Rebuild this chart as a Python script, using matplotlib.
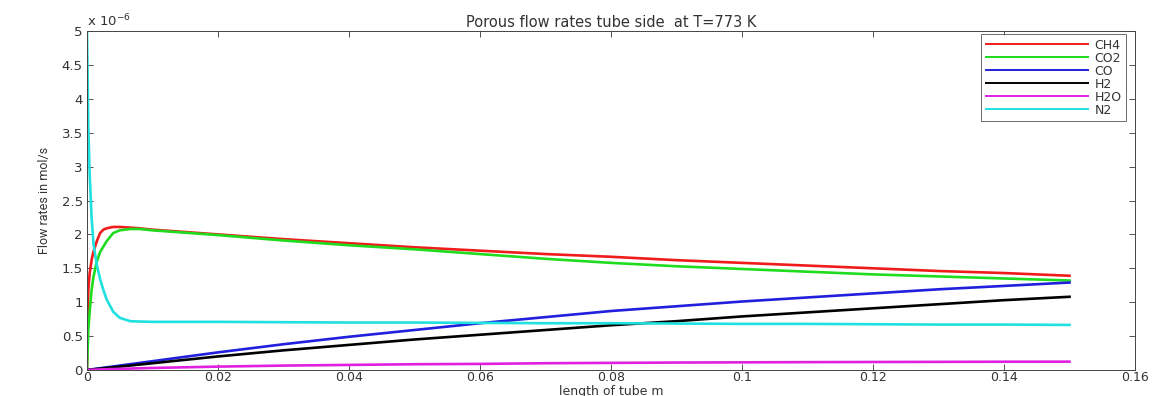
import matplotlib
matplotlib.use("Agg")
import matplotlib.pyplot as plt
from matplotlib.ticker import MultipleLocator, FuncFormatter

# Position along the tube (m)
length_m = [0, 0.0002, 0.0004, 0.0007, 0.001, 0.0015, 0.002, 0.0025, 0.003,
            0.004, 0.005, 0.0066, 0.008, 0.01, 0.02, 0.03, 0.04, 0.05, 0.06,
            0.07, 0.08, 0.09, 0.1, 0.11, 0.12, 0.13, 0.14, 0.15]

# Flow rates in units of 1e-6 mol/s
ch4 = [0, 1.18, 1.42, 1.62, 1.75, 1.90, 2.02, 2.07, 2.09, 2.11, 2.11, 2.10,
       2.09, 2.07, 2.00, 1.93, 1.87, 1.81, 1.76, 1.71, 1.67, 1.62, 1.58,
       1.54, 1.50, 1.46, 1.43, 1.39]
co2 = [0, 0.59, 0.85, 1.18, 1.38, 1.60, 1.74, 1.82, 1.90, 2.02, 2.06, 2.08,
       2.08, 2.06, 1.99, 1.91, 1.84, 1.78, 1.71, 1.64, 1.58, 1.53, 1.49,
       1.45, 1.41, 1.38, 1.35, 1.32]
co = [0, 0.003, 0.005, 0.009, 0.013, 0.02, 0.026, 0.033, 0.039, 0.052, 0.065,
      0.086, 0.104, 0.13, 0.26, 0.38, 0.49, 0.59, 0.69, 0.78, 0.87, 0.94,
      1.01, 1.07, 1.13, 1.19, 1.24, 1.29]
h2 = [0, 0.002, 0.004, 0.007, 0.01, 0.015, 0.02, 0.025, 0.03, 0.04, 0.05,
      0.066, 0.08, 0.10, 0.20, 0.29, 0.37, 0.45, 0.52, 0.59, 0.66, 0.72,
      0.79, 0.85, 0.91, 0.97, 1.03, 1.08]
h2o = [0, 0.001, 0.002, 0.003, 0.004, 0.006, 0.008, 0.01, 0.011, 0.014,
       0.017, 0.021, 0.025, 0.03, 0.05, 0.065, 0.075, 0.085, 0.09, 0.10,
       0.105, 0.11, 0.113, 0.116, 0.118, 0.12, 0.122, 0.123]
n2 = [5.0, 3.6, 2.9, 2.25, 1.85, 1.55, 1.34, 1.18, 1.04, 0.86, 0.77, 0.72,
      0.715, 0.71, 0.71, 0.705, 0.70, 0.70, 0.695, 0.69, 0.69, 0.685, 0.68,
      0.68, 0.675, 0.67, 0.67, 0.665]

species = ["CH4", "CO2", "CO", "H2", "H2O", "N2"]
series = [ch4, co2, co, h2, h2o, n2]
colors = ["#f01c1c", "#1fdc1f", "#2020dd", "#000000", "#e020e0", "#20e0e0"]

text_col = "#333333"

fig = plt.figure(figsize=(11.61, 3.96), dpi=100)
ax = fig.add_axes([87 / 1161, 26 / 396, (1135 - 87) / 1161, (370 - 31) / 396])

for name, vals, col in zip(species, series, colors):
    ax.plot(length_m, vals, color=col, lw=1.9, label=name)

ax.set_xlim(0, 0.16)
ax.set_ylim(0, 5)
ax.xaxis.set_major_locator(MultipleLocator(0.02))
ax.yaxis.set_major_locator(MultipleLocator(0.5))
fmt = FuncFormatter(lambda v, p: ("%g" % round(v, 4)))
ax.xaxis.set_major_formatter(fmt)
ax.yaxis.set_major_formatter(fmt)
ax.tick_params(direction="in", top=True, right=True, length=4, width=0.6,
               labelsize=9.5, colors=text_col, pad=3)
ax.tick_params(axis="x", pad=1.0, labelsize=9)
for s in ax.spines.values():
    s.set_linewidth(0.7)
    s.set_color("#444444")

ax.text(0.0, 1.004, r"x 10$^{-6}$", transform=ax.transAxes, fontsize=9.5,
        ha="left", va="bottom", color=text_col)
ax.set_title("Porous flow rates tube side  at T=773 K", fontsize=10.5, pad=3,
             color=text_col)
ax.set_xlabel("length of tube m", fontsize=9, labelpad=0.5, color=text_col)
ax.set_ylabel("Flow rates in mol/s", fontsize=9,
              family=["Roboto", "DejaVu Sans"],
              labelpad=8, color=text_col)

leg = ax.legend(loc="upper right", bbox_to_anchor=(0.9915, 0.99),
                fontsize=9, frameon=True, fancybox=False,
                edgecolor="#444444", handlelength=8.2, labelspacing=0.0,
                borderpad=0.35, handletextpad=0.5, borderaxespad=0.0)
leg.get_frame().set_linewidth(0.7)
for t in leg.get_texts():
    t.set_color(text_col)
for line in leg.get_lines():
    line.set_linewidth(1.4)

fig.savefig("out.png", dpi=100, facecolor="white")
